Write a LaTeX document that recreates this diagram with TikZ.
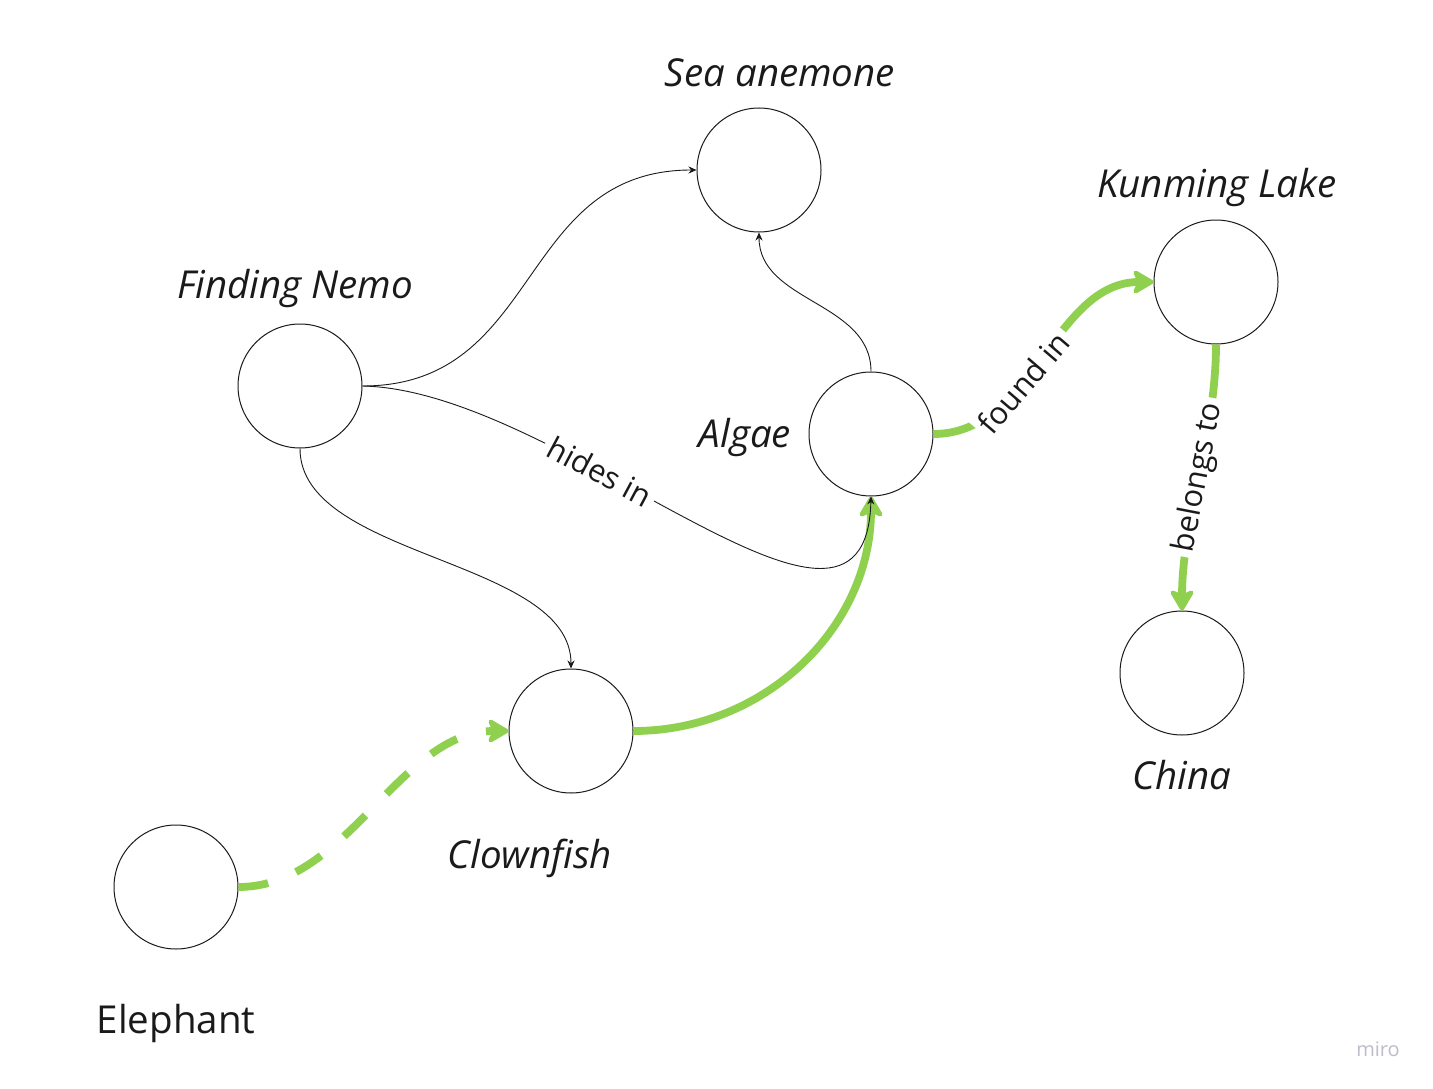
\documentclass[tikz,border=0pt]{standalone}
\usepackage{fontspec}
\setmainfont{Open Sans}
\usetikzlibrary{arrows.meta}
\definecolor{mgreen}{HTML}{8FD14F}
\definecolor{ink}{HTML}{1A1A1A}
\definecolor{mirogray}{HTML}{BDBDCB}
\begin{document}
\begin{tikzpicture}[x=1pt,y=-1pt,
  circ/.style={circle,draw=ink,line width=1pt,minimum size=124pt,inner sep=0pt},
  lbl/.style={font=\fontsize{38.5}{42}\selectfont\itshape,text=ink,anchor=base,inner sep=0pt},
  thinarrow/.style={draw=ink,line width=0.9pt,-{Stealth[length=8pt,width=7pt]}},
  grn/.style={draw=mgreen,line width=7.8pt,-{Stealth[length=25pt,width=29pt,inset=7pt,round]}},
  elbl/.style={font=\fontsize{31}{34}\selectfont,text=ink,fill=white,sloped,inner sep=5pt}
]
\useasboundingbox[fill=white] (0,0) rectangle (1433,1089);
% circles
\node[circ] (sa) at (759,170) {};
\node[circ] (fn) at (300,386) {};
\node[circ] (al) at (871,434) {};
\node[circ] (kl) at (1216,282) {};
\node[circ] (ch) at (1182,673) {};
\node[circ] (cf) at (571,731) {};
\node[circ] (el) at (176,887) {};
% labels
\node[lbl] (tsa) at (780,87) {Sea anemone};
\node[lbl] (tkl) at (1217,197) {Kunming Lake};
\node[lbl] (tfn) at (295,298) {Finding Nemo};
\node[lbl] (tal) at (745,447) {Algae};
\node[lbl] (tch) at (1182,789) {China};
\node[lbl] (tcf) at (530,868) {Clownfish};
\node[lbl,font=\fontsize{38.5}{42}\selectfont] (tel) at (176,1033) {Elephant};
\node[font=\fontsize{20}{22}\selectfont,text=mirogray,anchor=base,inner sep=0pt] (miro) at (1378,1056) {miro};
% green connectors
\draw[grn] (cf.east) .. controls +(131,0) and +(0,131) .. (al.south);
\draw[grn] (al.east) .. controls +(100,0) and +(-100,0) .. (kl.west)
  node[elbl,pos=0.39] {found in};
\draw[grn] (kl.south) .. controls +(0,90) and +(0,-90) .. (ch.north)
  node[elbl,pos=0.5] {belongs to};
\draw[grn,dash pattern=on 30pt off 30pt] (el.east) .. controls +(110,0) and +(-110,0) .. (cf.west);
% thin connectors
\draw[thinarrow] (fn.east) .. controls +(180,0) and +(-180,0) .. (sa.west);
\draw[thinarrow] (al.north) .. controls +(0,-70) and +(0,70) .. (sa.south);
\draw[thinarrow] (fn.east) .. controls +(200,4) and +(-5,205) .. (al.south)
  node[elbl,pos=0.36] {hides in};
\draw[thinarrow] (fn.south) .. controls +(0,110) and +(0,-110) .. (cf.north);
\end{tikzpicture}
\end{document}
